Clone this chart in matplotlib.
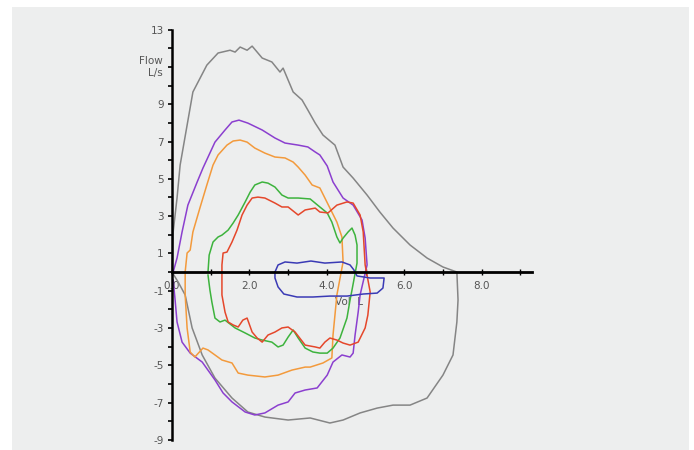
import matplotlib
matplotlib.use("Agg")
import matplotlib.pyplot as plt
from matplotlib.patches import Rectangle

# Flow-volume loops (volume in L, flow in L/s)
gray_vol = [0.00, 0.03, 0.13, 0.21, 0.54, 0.90, 1.19, 1.50, 1.63, 1.76, 1.94, 2.07, 2.33, 2.58,
            2.79, 2.87, 3.13, 3.36, 3.51, 3.70, 3.90, 4.21, 4.42, 4.68, 5.04, 5.37, 5.71, 6.15,
            6.59, 7.00, 7.36, 7.39, 7.36, 7.26, 7.00, 6.59, 6.15, 5.71, 5.30, 4.86, 4.42, 4.08,
            3.57, 3.00, 2.40, 1.96, 1.55, 1.11, 0.78, 0.52, 0.34, 0.16, 0.00]
gray_flow = [0.00, 2.15, 3.97, 5.74, 9.66, 11.10, 11.75, 11.90, 11.80, 12.07, 11.90, 12.12, 11.48,
             11.27, 10.73, 10.94, 9.66, 9.23, 8.69, 7.99, 7.35, 6.81, 5.63, 5.04, 4.13, 3.22,
             2.36, 1.45, 0.75, 0.27, 0.00, -1.50, -2.68, -4.45, -5.53, -6.76, -7.14, -7.14,
             -7.30, -7.56, -7.94, -8.10, -7.83, -7.94, -7.78, -7.51, -6.76, -5.69, -4.45, -3.00,
             -1.23, -0.54, 0.00]

purple_vol = [0.03, 0.13, 0.26, 0.41, 0.65, 0.80, 1.11, 1.37, 1.55, 1.73, 1.96, 2.33, 2.66, 2.92,
              3.26, 3.51, 3.70, 3.82, 4.01, 4.16, 4.42, 4.68, 4.91, 4.99, 5.04, 4.93, 4.86, 4.81,
              4.73, 4.68, 4.60, 4.39, 4.16, 4.01, 3.75, 3.44, 3.18, 3.00, 2.74, 2.40, 2.14, 1.89,
              1.55, 1.32, 1.11, 0.78, 0.47, 0.26, 0.13, 0.08, 0.03]
purple_flow = [0.00, 0.75, 2.15, 3.59, 4.83, 5.58, 6.97, 7.62, 8.05, 8.15, 7.99, 7.62, 7.19, 6.92,
               6.81, 6.71, 6.44, 6.28, 5.69, 4.83, 3.97, 3.59, 2.79, 1.82, 0.38, -0.60, -1.23,
               -2.15, -3.38, -4.35, -4.56, -4.45, -4.83, -5.53, -6.22, -6.33, -6.49, -6.97,
               -7.14, -7.56, -7.67, -7.51, -6.97, -6.49, -5.79, -4.83, -4.35, -3.76, -2.68,
               -1.50, -0.43]

orange_vol = [0.34, 0.39, 0.47, 0.54, 0.72, 0.90, 1.06, 1.19, 1.42, 1.58, 1.76, 1.94, 2.14, 2.40,
              2.66, 2.92, 3.13, 3.26, 3.44, 3.62, 3.82, 4.08, 4.26, 4.39, 4.42, 4.26, 4.21, 4.16,
              4.13, 3.90, 3.57, 3.44, 3.10, 2.74, 2.40, 1.96, 1.71, 1.55, 1.29, 0.93, 0.80, 0.59,
              0.47, 0.39, 0.34, 0.34]
orange_flow = [0.00, 1.02, 1.18, 2.15, 3.43, 4.67, 5.74, 6.28, 6.81, 7.03, 7.08, 6.97, 6.65, 6.38,
               6.17, 6.12, 5.90, 5.63, 5.20, 4.67, 4.51, 3.43, 2.68, 1.88, 0.54, -1.23, -2.31,
               -3.38, -4.61, -4.88, -5.10, -5.10, -5.26, -5.53, -5.63, -5.53, -5.42, -4.88,
               -4.72, -4.18, -4.08, -4.56, -4.29, -3.00, -1.23, 0.00]

green_vol = [0.93, 0.96, 1.06, 1.19, 1.29, 1.45, 1.58, 1.71, 1.89, 2.02, 2.14, 2.33, 2.48, 2.66,
             2.84, 3.00, 3.26, 3.57, 3.82, 4.01, 4.13, 4.26, 4.34, 4.42, 4.55, 4.65, 4.73, 4.78,
             4.78, 4.65, 4.60, 4.52, 4.34, 4.16, 4.01, 3.82, 3.64, 3.44, 3.26, 3.13, 3.00, 2.87,
             2.74, 2.58, 2.33, 2.14, 1.89, 1.63, 1.37, 1.24, 1.11, 1.03, 0.98, 0.93]
green_flow = [0.00, 0.91, 1.61, 1.88, 1.98, 2.25, 2.63, 3.06, 3.76, 4.29, 4.67, 4.83, 4.77, 4.56,
              4.13, 3.97, 3.97, 3.92, 3.49, 3.17, 2.68, 1.88, 1.56, 1.82, 2.15, 2.36, 1.98, 1.45,
              0.48, -0.97, -1.50, -2.47, -3.54, -4.08, -4.35, -4.35, -4.29, -4.08, -3.54, -3.11,
              -3.49, -3.92, -4.02, -3.76, -3.65, -3.54, -3.27, -3.00, -2.58, -2.68, -2.47, -1.61,
              -0.97, -0.16]

red_vol = [1.29, 1.29, 1.32, 1.42, 1.55, 1.68, 1.81, 1.94, 2.07, 2.22, 2.40, 2.66, 2.84, 3.00,
           3.26, 3.44, 3.70, 3.82, 4.03, 4.26, 4.52, 4.68, 4.86, 4.94, 4.99, 5.12, 5.06, 4.99,
           4.81, 4.60, 4.42, 4.26, 4.08, 3.95, 3.82, 3.70, 3.44, 3.18, 3.00, 2.84, 2.66, 2.48,
           2.33, 2.20, 2.07, 1.94, 1.83, 1.71, 1.58, 1.45, 1.37, 1.29, 1.29]
red_flow = [0.00, 0.38, 1.02, 1.07, 1.61, 2.25, 3.06, 3.59, 3.97, 4.02, 3.97, 3.70, 3.49, 3.49,
            3.06, 3.33, 3.43, 3.22, 3.17, 3.59, 3.76, 3.70, 3.06, 2.15, 0.38, -1.07, -2.31,
            -3.00, -3.76, -3.92, -3.81, -3.65, -3.54, -3.76, -4.08, -4.02, -3.92, -3.22, -2.95,
            -3.00, -3.22, -3.38, -3.76, -3.54, -3.22, -2.47, -2.58, -2.95, -2.84, -2.68, -2.15,
            -1.23, 0.00]

blue_vol = [2.66, 2.74, 2.92, 3.23, 3.59, 3.95, 4.39, 4.60, 4.70, 4.78, 5.12, 5.48, 5.45, 5.30,
            4.94, 4.52, 4.08, 3.64, 3.23, 2.89, 2.74, 2.66, 2.66]
blue_flow = [0.00, 0.38, 0.54, 0.48, 0.59, 0.48, 0.54, 0.38, 0.11, -0.21, -0.32, -0.32, -0.86,
             -1.13, -1.18, -1.29, -1.29, -1.34, -1.34, -1.18, -0.80, -0.32, 0.00]

y_ticks = list(range(-9, 14))
y_labels = [str(v) if v % 2 != 0 and v != 11 else "" for v in y_ticks]
x_ticks = list(range(0, 10))
x_labels = ["%.1f" % v if v % 2 == 0 else "" for v in x_ticks]

fig = plt.figure(figsize=(6.94, 4.5), dpi=100)
fig.patches.append(Rectangle((12 / 694, 0), 677 / 694, 443 / 450, transform=fig.transFigure,
                             facecolor="#edeeee", edgecolor="none", zorder=-10))
ax = fig.add_axes([133.3 / 694, 0.9 / 450, 406.4 / 694, 428.7 / 450])
ax.set_zorder(5)
ax.patch.set_visible(False)

lw = 1.1
ax.plot(gray_vol, gray_flow, color="#858585", lw=lw)
ax.plot(purple_vol, purple_flow, color="#8b3fcf", lw=lw)
ax.plot(orange_vol, orange_flow, color="#f39a3c", lw=lw)
ax.plot(green_vol, green_flow, color="#3db33d", lw=lw)
ax.plot(red_vol, red_flow, color="#e5472b", lw=lw)
ax.plot(blue_vol, blue_flow, color="#3a3ab5", lw=lw)

ax.set_xlim(-1.0, 9.5)
ax.set_ylim(-9.5, 13.5)

for s in ["top", "right"]:
    ax.spines[s].set_visible(False)
ax.spines["left"].set_position(("data", 0))
ax.spines["bottom"].set_position(("data", 0))
ax.spines["left"].set_bounds(-9, 13)
ax.spines["bottom"].set_bounds(0, 9.3)
ax.spines["left"].set_linewidth(1.8)
ax.spines["bottom"].set_linewidth(2.0)
ax.spines["left"].set_zorder(3)
ax.spines["bottom"].set_zorder(3)

ax.set_yticks(y_ticks)
ax.set_yticklabels(y_labels)
ax.set_xticks(x_ticks)
ax.set_xticklabels(x_labels)
ax.tick_params(axis="y", direction="out", length=3, width=1.2, pad=3,
               labelsize=7.5, labelcolor="#555555")
ax.tick_params(axis="x", direction="inout", length=5, width=1.0, pad=4,
               labelsize=7.5, labelcolor="#555555")

ax.text(-0.23, 11, "Flow\nL/s", ha="right", va="center", multialignment="right",
        fontsize=7.5, color="#555555")
ax.text(4.2, -1.6, "Vol  L", ha="left", va="center", fontsize=7.5, color="#555555", zorder=1)

fig.savefig("out.png", dpi=100)
